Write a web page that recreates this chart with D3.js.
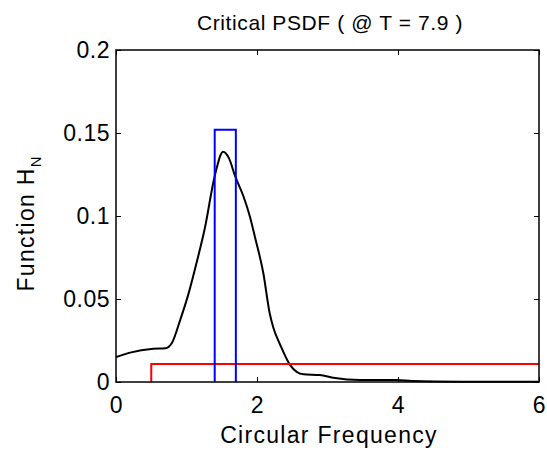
<!DOCTYPE html>
<html>
<head>
<meta charset="utf-8">
<script src="https://cdn.jsdelivr.net/npm/d3@7"></script>
<style>
  body { margin: 0; background: #fff; }
  text { font-family: "Liberation Sans", Arial, sans-serif; fill: #000; }
</style>
</head>
<body>
<script>
// PSDF curve
const freq = [0, 0.2, 0.53, 0.7, 0.79, 0.91, 1.03, 1.15, 1.26, 1.4, 1.52, 1.6, 1.69, 1.81, 1.9, 1.97, 2.09, 2.18, 2.23, 2.33, 2.47, 2.66, 2.89, 3.08, 3.46, 3.98, 4.2, 4.92, 6];
const psdf = [0.015, 0.0177, 0.020, 0.0203, 0.0233, 0.0373, 0.0534, 0.073, 0.0926, 0.124, 0.1387, 0.135, 0.124, 0.1116, 0.0996, 0.0875, 0.0655, 0.0414, 0.033, 0.0223, 0.0102, 0.0046, 0.0042, 0.0026, 0.0012, 0.0012, 0.0006, 0.0002, 0.0001];

// blue band (critical frequency window) and red uniform level
const bandX = [1.4, 1.7];
const bandH = 0.152;
const redStart = 0.5;
const redEnd = 6;
const redLevel = 0.0108;

const xTicks = [0, 2, 4, 6];
const yTicks = [0, 0.05, 0.1, 0.15, 0.2];

const width = 547, height = 452;
const margin = { left: 116, right: 8, top: 50, bottom: 70 };

const svg = d3.select("body").append("svg")
    .attr("width", width)
    .attr("height", height);

const x = d3.scaleLinear().domain([0, 6]).range([margin.left, width - margin.right]);
const y = d3.scaleLinear().domain([0, 0.2]).range([height - margin.bottom, margin.top]);

// curves
const line = d3.line().x(d => x(d[0])).y(d => y(d[1])).curve(d3.curveMonotoneX);

svg.append("path")
    .datum(freq.map((f, i) => [f, psdf[i]]))
    .attr("d", line)
    .attr("fill", "none")
    .attr("stroke", "#000")
    .attr("stroke-width", 2);

const redPts = [[redStart, 0], [redStart, redLevel], [redEnd, redLevel]];
svg.append("path")
    .attr("d", d3.line().x(d => x(d[0])).y(d => y(d[1]))(redPts))
    .attr("fill", "none")
    .attr("stroke", "#ff0000")
    .attr("stroke-width", 2);

const bluePts = [[bandX[0], 0], [bandX[0], bandH], [bandX[1], bandH], [bandX[1], 0]];
svg.append("path")
    .attr("d", d3.line().x(d => x(d[0])).y(d => y(d[1]))(bluePts))
    .attr("fill", "none")
    .attr("stroke", "#0000ff")
    .attr("stroke-width", 2);

// axes (ticks pointing inward, mirrored on top/right)
const tickLen = 5;
const axStyle = g => {
    g.select(".domain").remove();
    g.selectAll("line").attr("stroke", "#000").attr("stroke-width", 1);
    g.selectAll("text").style("font-size", "23px").style("letter-spacing", "0.5px");
};

svg.append("g")
    .attr("transform", `translate(0,${y(0)})`)
    .call(d3.axisBottom(x).tickValues(xTicks).tickSize(-tickLen).tickPadding(15).tickFormat(d3.format("d")))
    .call(axStyle)
    .call(g => g.selectAll("text").attr("dy", "0.71em"));

svg.append("g")
    .attr("transform", `translate(0,${y(0.2)})`)
    .call(d3.axisTop(x).tickValues(xTicks).tickSize(-tickLen).tickFormat(""))
    .call(axStyle);

svg.append("g")
    .attr("transform", `translate(${x(0)},0)`)
    .call(d3.axisLeft(y).tickValues(yTicks).tickSize(-tickLen).tickPadding(6).tickFormat(d => d === 0 ? "0" : String(d)))
    .call(axStyle);

svg.append("g")
    .attr("transform", `translate(${x(6)},0)`)
    .call(d3.axisRight(y).tickValues(yTicks).tickSize(-tickLen).tickFormat(""))
    .call(axStyle);

// frame
svg.append("rect")
    .attr("x", x(0))
    .attr("y", y(0.2))
    .attr("width", x(6) - x(0))
    .attr("height", y(0) - y(0.2))
    .attr("fill", "none")
    .attr("stroke", "#000")
    .attr("stroke-width", 1.5);

// labels
svg.append("text")
    .attr("x", 330)
    .attr("y", 30)
    .attr("text-anchor", "middle")
    .style("font-size", "21px")
    .style("letter-spacing", "0.6px")
    .text("Critical PSDF ( @ T = 7.9 )");

svg.append("text")
    .attr("x", 329)
    .attr("y", 443)
    .attr("text-anchor", "middle")
    .style("font-size", "23px")
    .style("letter-spacing", "1.3px")
    .text("Circular Frequency");

const yl = svg.append("text")
    .attr("transform", `translate(34,224) rotate(-90)`)
    .attr("text-anchor", "middle")
    .style("font-size", "23px")
    .style("letter-spacing", "1.3px");
yl.append("tspan").text("Function H");
yl.append("tspan").attr("dy", 7).style("font-size", "15px").style("letter-spacing", "0px").text("N");
</script>
</body>
</html>
